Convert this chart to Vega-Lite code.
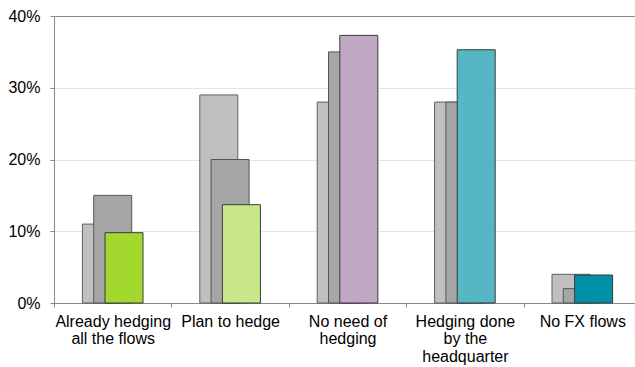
{
  "$schema": "https://vega.github.io/schema/vega-lite/v6.json",
  "autosize": "none",
  "padding": {"left": 54, "top": 16, "right": 0, "bottom": 64},
  "width": 587,
  "height": 287,
  "background": "white",
  "config": {
    "view": {"stroke": null},
    "font": "Liberation Sans",
    "axis": {"labelFont": "Liberation Sans", "labelFontSize": 16, "labelColor": "#000000"}
  },
  "data": {
    "values": [
      {"cat": "Already hedging\nall the flows", "series": "a", "value": 11},
      {"cat": "Already hedging\nall the flows", "series": "b", "value": 15},
      {"cat": "Already hedging\nall the flows", "series": "c", "value": 9.8},
      {"cat": "Plan to hedge", "series": "a", "value": 29},
      {"cat": "Plan to hedge", "series": "b", "value": 20},
      {"cat": "Plan to hedge", "series": "c", "value": 13.7},
      {"cat": "No need of\nhedging", "series": "a", "value": 28},
      {"cat": "No need of\nhedging", "series": "b", "value": 35},
      {"cat": "No need of\nhedging", "series": "c", "value": 37.3},
      {"cat": "Hedging done\nby the\nheadquarter", "series": "a", "value": 28},
      {"cat": "Hedging done\nby the\nheadquarter", "series": "b", "value": 28},
      {"cat": "Hedging done\nby the\nheadquarter", "series": "c", "value": 35.3},
      {"cat": "No FX flows", "series": "a", "value": 4},
      {"cat": "No FX flows", "series": "b", "value": 2},
      {"cat": "No FX flows", "series": "c", "value": 3.9}
    ]
  },
  "encoding": {
    "x": {
      "field": "cat",
      "type": "nominal",
      "sort": null,
      "scale": {"paddingInner": 0, "paddingOuter": 0},
      "axis": {
        "title": null,
        "labelAngle": 0,
        "labelExpr": "split(datum.label, '\\n')",
        "labelLineHeight": 17.5,
        "labelPadding": 6,
        "labelBaseline": "top",
        "tickBand": "extent",
        "tickSize": 4,
        "tickColor": "#888888",
        "domainColor": "#888888",
        "grid": false
      }
    },
    "y": {
      "field": "value",
      "type": "quantitative",
      "scale": {"domain": [0, 40], "nice": false},
      "axis": {
        "title": null,
        "values": [0, 10, 20, 30, 40],
        "labelExpr": "datum.value + '%'",
        "tickSize": 4,
        "labelPadding": 10,
        "tickColor": "#888888",
        "domainColor": "#888888",
        "gridColor": {"condition": {"test": "datum.value == 40", "value": "#888888"}, "value": "#e4e4e4"}
      }
    }
  },
  "layer": [
    {
      "transform": [{"filter": "datum.series == 'a'"}],
      "mark": {"type": "bar", "width": 38, "xOffset": -11.3, "fill": "#c0c0c0", "stroke": "#5e5e5e", "strokeWidth": 1}
    },
    {
      "transform": [{"filter": "datum.series == 'b'"}],
      "mark": {"type": "bar", "width": 38, "xOffset": 0, "fill": "#a6a6a6", "stroke": "#555555", "strokeWidth": 1}
    },
    {
      "transform": [{"filter": "datum.series == 'c'"}],
      "mark": {"type": "bar", "width": 38, "xOffset": 11.3, "stroke": "#3a3a3a", "strokeWidth": 1, "opacity": 1},
      "encoding": {
        "fill": {
          "field": "cat",
          "type": "nominal",
          "legend": null,
          "scale": {
            "domain": ["Already hedging\nall the flows", "Plan to hedge", "No need of\nhedging", "Hedging done\nby the\nheadquarter", "No FX flows"],
            "range": ["#a3d82f", "#c8e88a", "#c0a8c4", "#56b6c4", "#0091a9"]
          }
        }
      }
    }
  ]
}
